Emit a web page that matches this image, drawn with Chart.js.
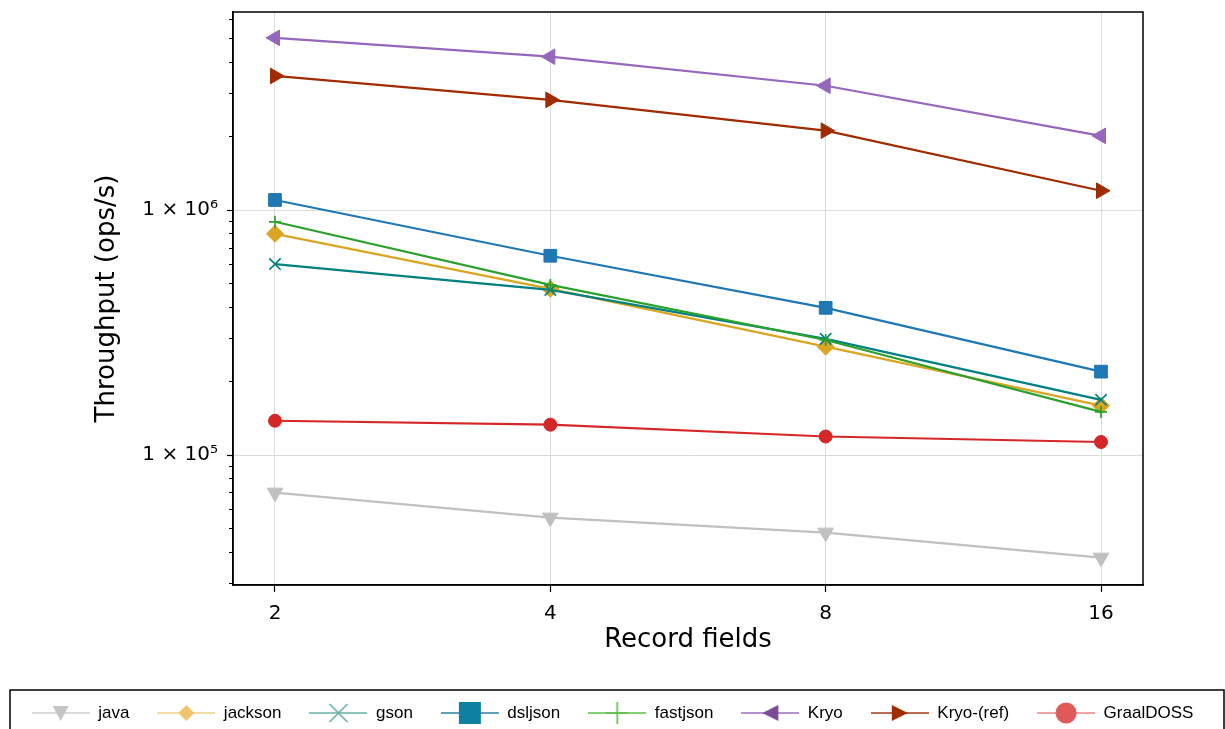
<!DOCTYPE html>
<html>
<head>
<meta charset="utf-8">
<script src="https://cdn.jsdelivr.net/npm/chart.js@4.4.1/dist/chart.umd.min.js"></script>
<style>
  html, body { margin: 0; padding: 0; background: #fff; }
  #wrap { width: 1225px; height: 729px; position: relative; }
</style>
</head>
<body>
<div id="wrap"><canvas id="myChart"></canvas></div>
<script>
// record field counts on the x axis
const fields = [2, 4, 8, 16];

// throughput (ops/s) per serializer
const java      = [70200, 55500, 48200, 38100];
const jackson   = [800000, 477000, 277000, 159000];
const gson      = [602000, 472000, 298000, 168000];
const dsljson   = [1100000, 651000, 399000, 219000];
const fastjson  = [896000, 495000, 295000, 150000];
const kryo      = [5050000, 4230000, 3220000, 2010000];
const kryoRef   = [3530000, 2820000, 2110000, 1200000];
const graalDoss = [138000, 133000, 119000, 113000];

const yMajorTicks = [1e5, 1e6];
const yTickLabels = ['1 × 10⁵', '1 × 10⁶'];
const yMinorTicks = [3e4, 4e4, 5e4, 6e4, 7e4, 8e4, 9e4,
                     2e5, 3e5, 4e5, 5e5, 6e5, 7e5, 8e5, 9e5,
                     2e6, 3e6, 4e6, 5e6, 6e6];

const Y_MIN = 29460, Y_MAX = 6.44e6;
const X_PAD = 1.1115;   // log-space margin either side of 2 and 16

const FONT = "'DejaVu Sans', sans-serif";

// small line+marker icon for the legend
function legendIcon(kind, lineColor, markColor) {
  const c = document.createElement('canvas');
  c.width = 58; c.height = 28;
  const g = c.getContext('2d');
  const x = 29, y = 14;
  g.strokeStyle = lineColor; g.lineWidth = 1.5;
  g.beginPath(); g.moveTo(0, y); g.lineTo(58, y); g.stroke();
  g.fillStyle = markColor; g.strokeStyle = markColor; g.lineWidth = 1.6;
  g.beginPath();
  switch (kind) {
    case 'down':
      g.moveTo(x - 8, y - 7); g.lineTo(x + 8, y - 7); g.lineTo(x, y + 8); g.closePath(); g.fill(); break;
    case 'diamond':
      g.moveTo(x, y - 8); g.lineTo(x + 8, y); g.lineTo(x, y + 8); g.lineTo(x - 8, y); g.closePath(); g.fill(); break;
    case 'x':
      g.moveTo(x - 9, y - 9); g.lineTo(x + 9, y + 9); g.moveTo(x + 9, y - 9); g.lineTo(x - 9, y + 9); g.stroke(); break;
    case 'square':
      g.fillRect(x - 11, y - 11, 22, 22); break;
    case 'plus':
      g.moveTo(x - 11, y); g.lineTo(x + 11, y); g.moveTo(x, y - 11); g.lineTo(x, y + 11); g.stroke(); break;
    case 'left':
      g.moveTo(x - 8, y); g.lineTo(x + 8, y - 8); g.lineTo(x + 8, y + 8); g.closePath(); g.fill(); break;
    case 'right':
      g.moveTo(x + 8, y); g.lineTo(x - 8, y - 8); g.lineTo(x - 8, y + 8); g.closePath(); g.fill(); break;
    case 'circle':
      g.arc(x, y, 10.5, 0, Math.PI * 2); g.fill(); break;
  }
  return c;
}

const legendIcons = [
  legendIcon('down', '#cfcfcf', '#c4c4c4'),
  legendIcon('diamond', '#f2cf86', '#efc46c'),
  legendIcon('x', '#66b2a8', '#5faea4'),
  legendIcon('square', '#2a7f9f', '#0e80a1'),
  legendIcon('plus', '#5cc044', '#5cc044'),
  legendIcon('left', '#9a6cbc', '#7b4a99'),
  legendIcon('right', '#a63a1a', '#a02c00'),
  legendIcon('circle', '#e88585', '#e05a5a')
];

function makeSet(label, values, color, style, radius, rotation, bw) {
  return {
    label: label,
    data: fields.map((f, i) => ({ x: f, y: values[i] })),
    borderColor: color,
    backgroundColor: color,
    pointBackgroundColor: color,
    pointBorderColor: color,
    pointStyle: style,
    pointRadius: radius,
    pointRotation: rotation,
    pointBorderWidth: bw,
    borderWidth: 2.2,
    tension: 0,
    yAxisID: 'y'
  };
}

const datasets = [
  makeSet('java', java, '#c0c0c0', 'triangle', 9, 180, 1),
  makeSet('jackson', jackson, '#daa520', 'rectRot', 8.5, 0, 1),
  makeSet('gson', gson, '#008080', 'crossRot', 8, 0, 1.7),
  makeSet('dsljson', dsljson, '#1f77b4', 'rect', 9, 0, 1),
  makeSet('fastjson', fastjson, '#2ca02c', 'cross', 6, 0, 1.7),
  makeSet('Kryo', kryo, '#9467bd', 'triangle', 9, 270, 1),
  makeSet('Kryo-(ref)', kryoRef, '#a12b00', 'triangle', 9, 90, 1),
  makeSet('GraalDOSS', graalDoss, '#d62728', 'circle', 6.5, 0, 1)
];
// later series on top
datasets.forEach((d, i) => { d.order = datasets.length - i; });

const frames = {
  id: 'frames',
  afterDraw(chart) {
    const { ctx, chartArea: a } = chart;
    ctx.save();
    ctx.strokeStyle = '#000';
    ctx.lineWidth = 1.5;
    ctx.strokeRect(a.left, a.top, a.right - a.left, a.bottom - a.top);
    // box round the legend, open at the bottom of the page
    ctx.strokeRect(10, 690, chart.width - 11, 80);
    ctx.restore();
  }
};

const ctxt = document.getElementById('myChart').getContext('2d');

const myChart = new Chart(ctxt, {
  type: 'line',
  data: { datasets: datasets },
  options: {
    responsive: true,
    maintainAspectRatio: false,
    animation: false,
    devicePixelRatio: 1,
    // legend row hangs a little past the bottom edge
    layout: { padding: { left: 0, right: 0, top: 12, bottom: -2.5 } },
    plugins: {
      tooltip: { enabled: false },
      legend: {
        position: 'bottom',
        labels: {
          usePointStyle: true,
          pointStyleWidth: 58,
          padding: 28,
          color: '#000',
          font: { family: "'Liberation Sans', Arial, sans-serif", size: 17 },
          generateLabels: chart => chart.data.datasets.map((ds, i) => ({
            text: ds.label,
            pointStyle: legendIcons[i],
            fillStyle: 'transparent',
            strokeStyle: 'transparent',
            lineWidth: 0,
            hidden: false,
            datasetIndex: i,
            fontColor: '#000'
          }))
        }
      }
    },
    scales: {
      x: {
        type: 'logarithmic',
        min: fields[0] / X_PAD,
        max: fields[fields.length - 1] * X_PAD,
        afterBuildTicks: s => { s.ticks = fields.map(v => ({ value: v })); },
        afterFit: s => { s.height = 91.5; s.paddingLeft = 0; s.paddingRight = 0; },
        ticks: {
          callback: v => String(v),
          autoSkip: false, maxRotation: 0,
          color: '#000', padding: 10,
          font: { family: FONT, size: 20 }
        },
        grid: { color: '#dcdcdc', lineWidth: 1, tickLength: 7, tickColor: '#000', tickWidth: 1.2 },
        border: { color: '#000', width: 1.5 },
        title: {
          display: true, text: 'Record fields', color: '#000',
          font: { family: FONT, size: 26 }, padding: { top: 0, bottom: 21 }
        }
      },
      y: {
        type: 'logarithmic',
        position: 'left',
        weight: 1,
        min: Y_MIN, max: Y_MAX,
        afterBuildTicks: s => { s.ticks = yMajorTicks.map(v => ({ value: v })); },
        afterFit: s => { s.width = 233; s.paddingTop = 0; s.paddingBottom = 0; },
        ticks: {
          callback: (v, i) => yTickLabels[i],
          autoSkip: false, color: '#000', padding: 9,
          font: { family: FONT, size: 20 }
        },
        grid: { color: '#dcdcdc', lineWidth: 1, tickLength: 6, tickColor: '#000', tickWidth: 1.2 },
        border: { color: '#000', width: 1.5 },
        title: {
          display: true, text: 'Throughput (ops/s)', color: '#000',
          font: { family: FONT, size: 26 }, padding: { top: 92, bottom: 0 }
        }
      },
      // minor ticks only
      y2: {
        type: 'logarithmic',
        position: 'left',
        weight: 0,
        min: Y_MIN, max: Y_MAX,
        afterBuildTicks: s => { s.ticks = yMinorTicks.map(v => ({ value: v })); },
        afterFit: s => { s.width = 0; s.paddingTop = 0; s.paddingBottom = 0; },
        ticks: { display: false },
        grid: { drawOnChartArea: false, tickLength: 4, tickColor: '#000', tickWidth: 1 },
        border: { display: false }
      },
      // empty strip on the right of the plot
      yr: {
        type: 'linear',
        position: 'right',
        display: true,
        afterFit: s => { s.width = 82; s.paddingTop = 0; s.paddingBottom = 0; },
        ticks: { display: false },
        grid: { display: false },
        border: { display: false }
      }
    }
  },
  plugins: [frames]
});
</script>
</body>
</html>
